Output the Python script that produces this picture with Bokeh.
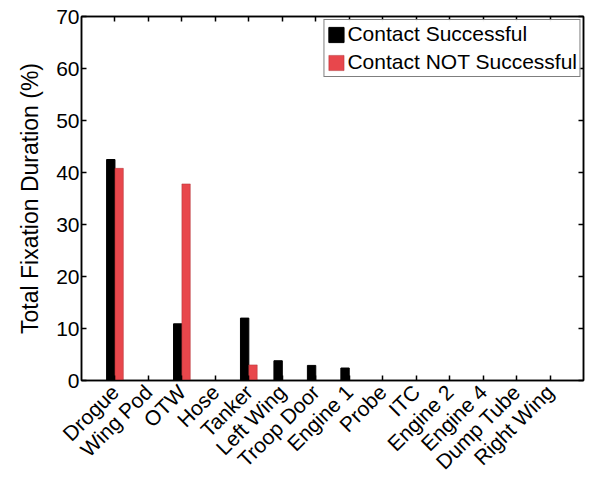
import numpy as np
from bokeh.plotting import figure
from bokeh.models import Range1d, FixedTicker, LinearAxis, ColumnDataSource, Legend, LegendItem
from bokeh.embed import file_html
from bokeh.resources import INLINE

categories = ["Drogue", "Wing Pod", "OTW", "Hose", "Tanker", "Left Wing", "Troop Door",
              "Engine 1", "Probe", "ITC", "Engine 2", "Engine 4", "Dump Tube", "Right Wing"]
successful = [42.5, 0, 10.9, 0, 12.0, 3.8, 2.9, 2.4, 0, 0, 0, 0, 0, 0]
not_successful = [40.8, 0, 37.8, 0, 3.0, 0, 0, 0, 0, 0, 0, 0, 0, 0]
y_ticks = [0, 10, 20, 30, 40, 50, 60, 70]

FONT = "Liberation Sans"
RED = "#e8474c"

xpos = list(range(1, len(categories) + 1))
p = figure(width=590, height=484, output_backend="svg", toolbar_location=None,
           x_range=Range1d(0, 15), y_range=Range1d(0, 70),
           min_border_left=81, min_border_right=7, min_border_top=16, min_border_bottom=103)
p.background_fill_color = "white"
p.border_fill_color = "white"
p.outline_line_color = "black"
p.outline_line_width = 1.5
p.xgrid.visible = False
p.ygrid.visible = False

bw = 0.25
src1 = ColumnDataSource(dict(x=[x - bw / 2 for x in xpos], top=successful))
src2 = ColumnDataSource(dict(x=[x + bw / 2 for x in xpos], top=not_successful))
r1 = p.vbar(x="x", top="top", width=bw, source=src1, fill_color="black", line_color="black")
r2 = p.vbar(x="x", top="top", width=bw, source=src2, fill_color=RED, line_color="#b03035", line_width=0.5)

def style(ax):
    ax.axis_line_color = "black"
    ax.axis_line_width = 1.5
    ax.major_tick_in = 5
    ax.major_tick_out = 0
    ax.major_tick_line_color = "black"
    ax.major_tick_line_width = 1.5
    ax.minor_tick_line_color = None
    ax.major_label_text_font = FONT
    ax.major_label_text_font_size = "21px"
    ax.major_label_text_color = "black"

xa = p.xaxis[0]
xa.ticker = FixedTicker(ticks=xpos)
xa.major_label_overrides = {x: c for x, c in zip(xpos, categories)}
xa.major_label_orientation = np.pi / 4
style(xa)
xa.major_label_standoff = 8
ya = p.yaxis[0]
ya.ticker = FixedTicker(ticks=y_ticks)
ya.axis_label = "Total Fixation Duration (%)"
ya.axis_label_text_font = FONT
ya.axis_label_text_font_size = "23px"
ya.axis_label_text_font_style = "normal"
ya.axis_label_text_color = "black"
ya.axis_label_standoff = 10
style(ya)
ya.major_label_standoff = 2

top = LinearAxis(ticker=FixedTicker(ticks=xpos))
style(top)
top.major_label_overrides = {x: "" for x in xpos}
p.add_layout(top, "above")
right = LinearAxis(ticker=FixedTicker(ticks=y_ticks))
style(right)
right.major_label_overrides = {y: "" for y in y_ticks}
p.add_layout(right, "right")

legend = Legend(items=[LegendItem(label="Contact Successful", renderers=[r1]),
                       LegendItem(label="Contact NOT Successful", renderers=[r2])],
                location="top_right")
legend.border_line_color = "black"
legend.border_line_width = 1.5
legend.label_text_font = FONT
legend.label_text_font_size = "21px"
legend.label_text_color = "black"
legend.glyph_width = 19
legend.glyph_height = 19
legend.label_standoff = 2
legend.padding = 2
legend.spacing = 4
legend.margin = 3
legend.label_height = 21
p.add_layout(legend, "center")

open("out.html", "w").write(file_html(p, INLINE))
